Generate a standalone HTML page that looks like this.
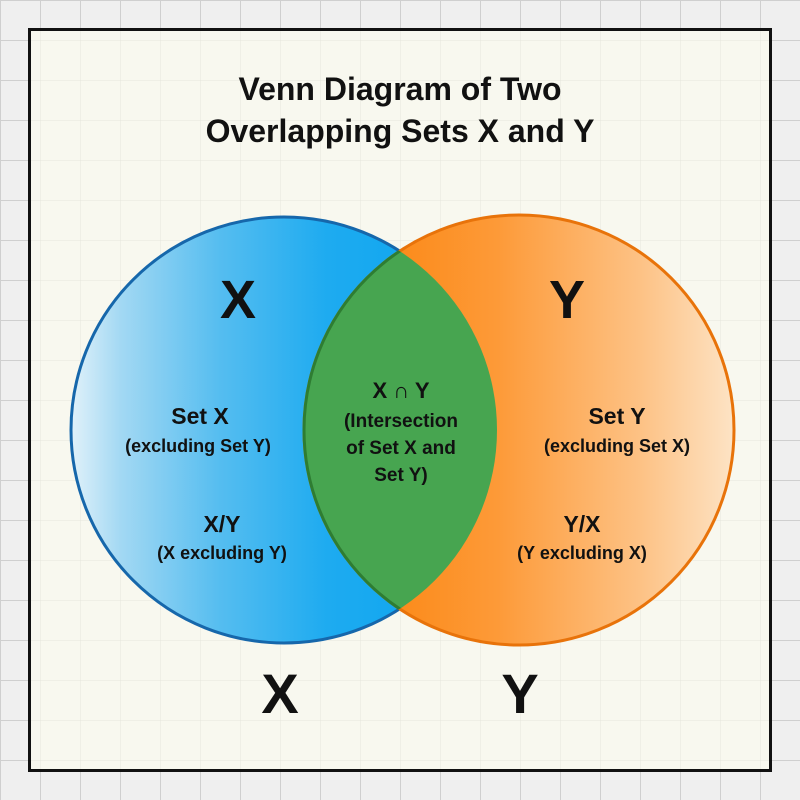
<!DOCTYPE html>
<html><head><meta charset="utf-8"><style>
html,body{margin:0;padding:0}
body{width:800px;height:800px;overflow:hidden;background:#efefef;
background-image:linear-gradient(#cfcfcf 1px,transparent 1px),linear-gradient(90deg,#cfcfcf 1px,transparent 1px);
background-size:40px 40px;background-position:0 0;}
svg{position:absolute;left:0;top:0}
text{font-family:"Liberation Sans",sans-serif;fill:#111;text-anchor:middle;font-weight:bold}
</style></head><body>
<svg width="800" height="800" viewBox="0 0 800 800">
<defs>
<pattern id="g" width="40" height="40" patternUnits="userSpaceOnUse">
<path d="M40 0H0V40" fill="none" stroke="#e6e6dc" stroke-width="1"/></pattern>
<linearGradient id="bl" x1="70" x2="498" y1="0" y2="0" gradientUnits="userSpaceOnUse">
<stop offset="0" stop-color="#e2f2fa"/><stop offset="0.12" stop-color="#a2d8f3"/>
<stop offset="0.35" stop-color="#55bdf0"/><stop offset="0.6" stop-color="#1eabf0"/><stop offset="1" stop-color="#05a3ef"/></linearGradient>
<linearGradient id="or" x1="303" x2="736" y1="0" y2="0" gradientUnits="userSpaceOnUse">
<stop offset="0" stop-color="#fb7d00"/><stop offset="0.45" stop-color="#fd9a38"/>
<stop offset="0.78" stop-color="#fdc285"/><stop offset="1" stop-color="#fde4c6"/></linearGradient>
<clipPath id="cl"><circle cx="284" cy="430" r="213"/></clipPath>
</defs>
<rect x="29.5" y="29.5" width="741" height="741" fill="#f8f8ef" stroke="#111" stroke-width="3"/>
<rect x="31" y="31" width="738" height="738" fill="url(#g)"/>
<circle cx="284" cy="430" r="213" fill="url(#bl)" stroke="#1667ab" stroke-width="3"/>
<circle cx="519" cy="430" r="215" fill="url(#or)" stroke="#e8730a" stroke-width="3"/>
<circle cx="519" cy="430" r="215" fill="#47a550" stroke="#2e7d32" stroke-width="3" clip-path="url(#cl)"/>
<path d="M401 250 A213 213 0 0 1 401 610" fill="none" stroke="#1f6fa8" stroke-width="3" clip-path="url(#cl)"/>
<text x="400" y="100" font-size="32">Venn Diagram of Two</text>
<text x="400" y="142" font-size="32">Overlapping Sets X and Y</text>
<text x="238" y="318" font-size="54">X</text>
<text x="567" y="318" font-size="54">Y</text>
<text x="200" y="424" font-size="23">Set X</text>
<text x="198" y="452" font-size="18">(excluding Set Y)</text>
<text x="222" y="532" font-size="23">X/Y</text>
<text x="222" y="559" font-size="18">(X excluding Y)</text>
<text x="401" y="398" font-size="22">X ∩ Y</text>
<text x="401" y="427" font-size="19">(Intersection</text>
<text x="401" y="454" font-size="19">of Set X and</text>
<text x="401" y="481" font-size="19">Set Y)</text>
<text x="617" y="424" font-size="23">Set Y</text>
<text x="617" y="452" font-size="18">(excluding Set X)</text>
<text x="582" y="532" font-size="23">Y/X</text>
<text x="582" y="559" font-size="18">(Y excluding X)</text>
<text x="280" y="713" font-size="56">X</text>
<text x="520" y="713" font-size="56">Y</text>
</svg>
</body></html>
